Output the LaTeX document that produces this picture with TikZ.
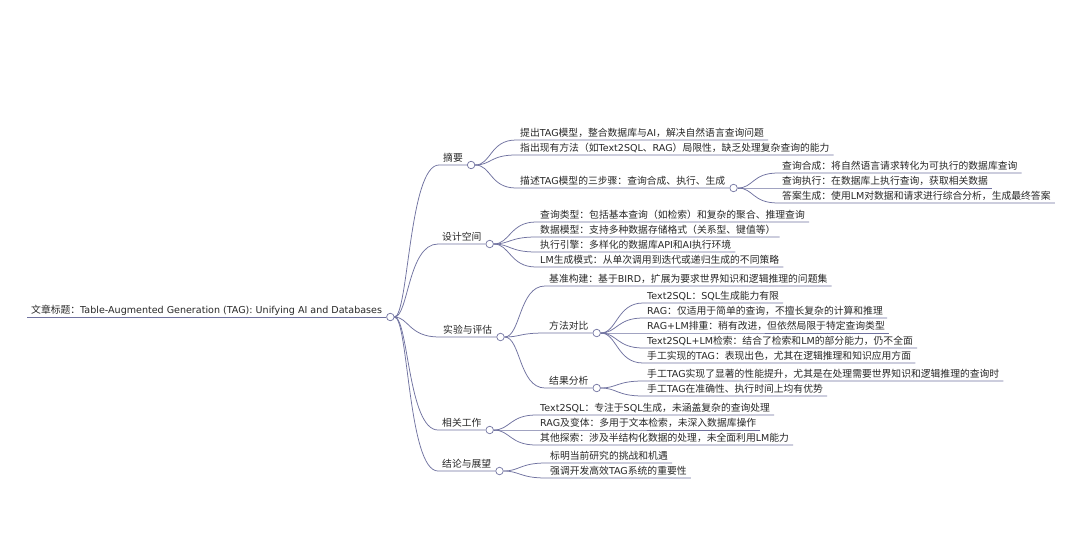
\documentclass[tikz,border=0pt]{standalone}
\usepackage{fontspec}
\setmainfont[Scale=0.975]{DejaVu Sans}
\newfontfamily\zh{Noto Sans CJK SC}
\newcommand\en[1]{{\rmfamily #1}}
\usetikzlibrary{positioning,backgrounds}
\definecolor{linec}{RGB}{112,114,160}
\definecolor{txtc}{RGB}{40,40,40}
\begin{document}
\begin{tikzpicture}[x=1pt,y=-1pt]
	\tikzstyle{topic}=[anchor=south west,inner xsep=4pt,inner ysep=1.5pt,text height=7.5pt,text depth=2pt,text=txtc,font=\fontsize{9.8}{11}\selectfont\zh]
	\tikzstyle{knob}=[circle,draw=linec,fill=white,line width=0.7pt,minimum size=7.5pt,inner sep=0pt]
	\tikzstyle{branch}=[draw=linec,line width=0.75pt]
	\useasboundingbox (0,0) rectangle (1080,544);
	% root
	\node [topic] (root) at (27,317) {文章标题：\en{Table-Augmented Generation (TAG): Unifying AI and Databases}};
	% first level
	\node [topic] (zy) at (439,165) {摘要};
	\node [topic] (sj) at (438,244) {设计空间};
	\node [topic] (sy) at (439,337) {实验与评估};
	\node [topic] (xg) at (438,430) {相关工作};
	\node [topic] (jl) at (438,471) {结论与展望};
	% abstract
	\node [topic] (zy1) at (516,140) {提出\en{TAG}模型，整合数据库与\en{AI}，解决自然语言查询问题};
	\node [topic] (zy2) at (516,155) {指出现有方法（如\en{Text2SQL}、\en{RAG}）局限性，缺乏处理复杂查询的能力};
	\node [topic] (zy3) at (516,188) {描述\en{TAG}模型的三步骤：查询合成、执行、生成};
	\node [topic] (zy3a) at (778,173) {查询合成：将自然语言请求转化为可执行的数据库查询};
	\node [topic] (zy3b) at (778,188) {查询执行：在数据库上执行查询，获取相关数据};
	\node [topic] (zy3c) at (778,203) {答案生成：使用\en{LM}对数据和请求进行综合分析，生成最终答案};
	% design space
	\node [topic] (sj1) at (536,222) {查询类型：包括基本查询（如检索）和复杂的聚合、推理查询};
	\node [topic] (sj2) at (536,237) {数据模型：支持多种数据存储格式（关系型、键值等）};
	\node [topic] (sj3) at (536,252) {执行引擎：多样化的数据库\en{API}和\en{AI}执行环境};
	\node [topic] (sj4) at (536,267) {\en{LM}生成模式：从单次调用到迭代或递归生成的不同策略};
	% experiments
	\node [topic] (sy1) at (545,286) {基准构建：基于\en{BIRD}，扩展为要求世界知识和逻辑推理的问题集};
	\node [topic] (sy2) at (545,333) {方法对比};
	\node [topic] (sy3) at (545,388) {结果分析};
	\node [topic] (sy2a) at (643,303) {\en{Text2SQL}：\en{SQL}生成能力有限};
	\node [topic] (sy2b) at (643,318) {\en{RAG}：仅适用于简单的查询，不擅长复杂的计算和推理};
	\node [topic] (sy2c) at (643,333) {\en{RAG+LM}排重：稍有改进，但依然局限于特定查询类型};
	\node [topic] (sy2d) at (643,348) {\en{Text2SQL+LM}检索：结合了检索和\en{LM}的部分能力，仍不全面};
	\node [topic] (sy2e) at (643,363) {手工实现的\en{TAG}：表现出色，尤其在逻辑推理和知识应用方面};
	\node [topic] (sy3a) at (643,381) {手工\en{TAG}实现了显著的性能提升，尤其是在处理需要世界知识和逻辑推理的查询时};
	\node [topic] (sy3b) at (643,396) {手工\en{TAG}在准确性、执行时间上均有优势};
	% related work
	\node [topic] (xg1) at (536,415) {\en{Text2SQL}：专注于\en{SQL}生成，未涵盖复杂的查询处理};
	\node [topic] (xg2) at (536,430) {\en{RAG}及变体：多用于文本检索，未深入数据库操作};
	\node [topic] (xg3) at (536,445) {其他探索：涉及半结构化数据的处理，未全面利用\en{LM}能力};
	% conclusion
	\node [topic] (jl1) at (546,463) {标明当前研究的挑战和机遇};
	\node [topic] (jl2) at (546,478) {强调开发高效\en{TAG}系统的重要性};
	% knobs
	\node [knob, right=0pt of root.south east] (root-o) {};
	\node [knob, right=0pt of zy.south east] (zy-o) {};
	\node [knob, right=0pt of sj.south east] (sj-o) {};
	\node [knob, right=0pt of sy.south east] (sy-o) {};
	\node [knob, right=0pt of xg.south east] (xg-o) {};
	\node [knob, right=0pt of jl.south east] (jl-o) {};
	\node [knob, right=0pt of zy3.south east] (zy3-o) {};
	\node [knob, right=0pt of sy2.south east] (sy2-o) {};
	\node [knob, right=0pt of sy3.south east] (sy3-o) {};
	% branches, under the knobs
	\begin{pgfonlayer}{background}
	\fill[white] (0,0) rectangle (1080,544);
	\path[branch] (root.south west) -- (root.south east);
	\path[branch] (root-o.east) .. controls +(14,0) and +(-30,0) .. (zy.south west) -- (zy.south east);
	\path[branch] (root-o.east) .. controls +(14,0) and +(-30,0) .. (sj.south west) -- (sj.south east);
	\path[branch] (root-o.east) .. controls +(14,0) and +(-30,0) .. (sy.south west) -- (sy.south east);
	\path[branch] (root-o.east) .. controls +(14,0) and +(-30,0) .. (xg.south west) -- (xg.south east);
	\path[branch] (root-o.east) .. controls +(14,0) and +(-30,0) .. (jl.south west) -- (jl.south east);
	\path[branch] (zy-o.east) .. controls +(16,0) and +(-26,0) .. (zy1.south west) -- (zy1.south east);
	\path[branch] (zy-o.east) .. controls +(16,0) and +(-26,0) .. (zy2.south west) -- (zy2.south east);
	\path[branch] (zy-o.east) .. controls +(16,0) and +(-26,0) .. (zy3.south west) -- (zy3.south east);
	\path[branch] (zy3-o.east) .. controls +(16,0) and +(-26,0) .. (zy3a.south west) -- (zy3a.south east);
	\path[branch] (zy3-o.east) .. controls +(16,0) and +(-26,0) .. (zy3b.south west) -- (zy3b.south east);
	\path[branch] (zy3-o.east) .. controls +(16,0) and +(-26,0) .. (zy3c.south west) -- (zy3c.south east);
	\path[branch] (sj-o.east) .. controls +(16,0) and +(-26,0) .. (sj1.south west) -- (sj1.south east);
	\path[branch] (sj-o.east) .. controls +(16,0) and +(-26,0) .. (sj2.south west) -- (sj2.south east);
	\path[branch] (sj-o.east) .. controls +(16,0) and +(-26,0) .. (sj3.south west) -- (sj3.south east);
	\path[branch] (sj-o.east) .. controls +(16,0) and +(-26,0) .. (sj4.south west) -- (sj4.south east);
	\path[branch] (sy-o.east) .. controls +(16,0) and +(-26,0) .. (sy1.south west) -- (sy1.south east);
	\path[branch] (sy-o.east) .. controls +(16,0) and +(-26,0) .. (sy2.south west) -- (sy2.south east);
	\path[branch] (sy-o.east) .. controls +(16,0) and +(-26,0) .. (sy3.south west) -- (sy3.south east);
	\path[branch] (sy2-o.east) .. controls +(16,0) and +(-26,0) .. (sy2a.south west) -- (sy2a.south east);
	\path[branch] (sy2-o.east) .. controls +(16,0) and +(-26,0) .. (sy2b.south west) -- (sy2b.south east);
	\path[branch] (sy2-o.east) .. controls +(16,0) and +(-26,0) .. (sy2c.south west) -- (sy2c.south east);
	\path[branch] (sy2-o.east) .. controls +(16,0) and +(-26,0) .. (sy2d.south west) -- (sy2d.south east);
	\path[branch] (sy2-o.east) .. controls +(16,0) and +(-26,0) .. (sy2e.south west) -- (sy2e.south east);
	\path[branch] (sy3-o.east) .. controls +(16,0) and +(-26,0) .. (sy3a.south west) -- (sy3a.south east);
	\path[branch] (sy3-o.east) .. controls +(16,0) and +(-26,0) .. (sy3b.south west) -- (sy3b.south east);
	\path[branch] (xg-o.east) .. controls +(16,0) and +(-26,0) .. (xg1.south west) -- (xg1.south east);
	\path[branch] (xg-o.east) .. controls +(16,0) and +(-26,0) .. (xg2.south west) -- (xg2.south east);
	\path[branch] (xg-o.east) .. controls +(16,0) and +(-26,0) .. (xg3.south west) -- (xg3.south east);
	\path[branch] (jl-o.east) .. controls +(16,0) and +(-26,0) .. (jl1.south west) -- (jl1.south east);
	\path[branch] (jl-o.east) .. controls +(16,0) and +(-26,0) .. (jl2.south west) -- (jl2.south east);
	\end{pgfonlayer}
\end{tikzpicture}
\end{document}
